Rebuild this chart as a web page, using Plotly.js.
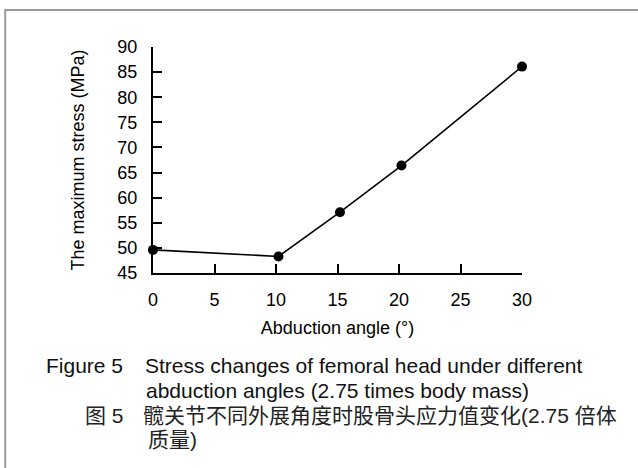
<!DOCTYPE html>
<html>
<head>
<meta charset="utf-8">
<script src="https://cdn.plot.ly/plotly-3.0.1.min.js"></script>
<style>html,body{margin:0;padding:0;background:#fff;}#chart{width:638px;height:468px;}</style>
</head>
<body>
<div id="chart"></div>
<script>
// Data
const abductionAngle = [0, 10.2, 15.2, 20.2, 30];
const maxStress = [49.6, 48.3, 57.1, 66.4, 86.1];
const xTicks = [0, 5, 10, 15, 20, 25, 30];
const yTicks = [45, 50, 55, 60, 65, 70, 75, 80, 85, 90];

const xTitle = 'Abduction angle (°)';
const yTitle = 'The maximum stress (MPa)';
const captionEnLabel = 'Figure 5';
const captionEnLine1 = 'Stress changes of femoral head under different';
const captionEnLine2 = 'abduction angles (2.75 times body mass)';
const captionZhLabel = '图 5';
const captionZhLine1 = '髋关节不同外展角度时股骨头应力值变化(2.75 倍体';
const captionZhLine2 = '质量)';

const W = 638, H = 468;
const L = 153.3, R = 522.3, T = 46.7, B = 273.3;
const px = x => (x - L) / (R - L);
const py = y => (B - y) / (B - T);

const latin = '"Liberation Sans", Arial, sans-serif';
const zh = '"Liberation Sans", "Noto Sans CJK SC", sans-serif';

function cap(text, x, y, fam, color) {
  return {text: text, xref: 'paper', yref: 'paper', x: px(x), y: py(y),
    xanchor: 'left', yanchor: 'middle', showarrow: false,
    font: {family: fam, size: 21, color: color || '#111'}};
}

const trace = {
  x: abductionAngle, y: maxStress, type: 'scatter', mode: 'lines+markers',
  line: {color: '#000', width: 1.6},
  marker: {color: '#000', size: 10},
  cliponaxis: false, hoverinfo: 'skip'
};

const layout = {
  width: W, height: H,
  margin: {l: L, r: W - R, t: T, b: H - B, pad: 0},
  paper_bgcolor: '#fff', plot_bgcolor: '#fff',
  showlegend: false,
  font: {family: latin, color: '#000', size: 18},
  xaxis: {
    range: [0, 30], tickvals: xTicks, ticktext: xTicks.map(String),
    showgrid: false, zeroline: false, showline: true, linecolor: '#000', linewidth: 2,
    ticks: 'inside', ticklen: 9, tickwidth: 2, tickcolor: '#000',
    ticklabelstandoff: 9,
    tickfont: {size: 18, family: latin, color: '#000'},
    title: {text: xTitle, font: {size: 18, family: latin, color: '#000'}, standoff: 13},
    fixedrange: true
  },
  yaxis: {
    range: [45, 90], tickvals: yTicks, ticktext: yTicks.map(String),
    showgrid: false, zeroline: false, showline: true, linecolor: '#000', linewidth: 2,
    ticks: 'inside', ticklen: 9, tickwidth: 2, tickcolor: '#000',
    ticklabelstandoff: 10,
    tickfont: {size: 18, family: latin, color: '#000'},
    title: {text: yTitle, font: {size: 18, family: latin, color: '#000'}, standoff: 28},
    fixedrange: true
  },
  shapes: [{
    type: 'rect', xref: 'paper', yref: 'paper',
    x0: px(5.5), x1: px(700), y0: py(9.5), y1: py(520),
    line: {color: '#9a9a9a', width: 2}, fillcolor: 'rgba(0,0,0,0)', layer: 'below'
  }],
  annotations: [
    cap(captionEnLabel, 44, 366, latin),
    cap(captionEnLine1, 143, 366, latin),
    cap(captionEnLine2, 144, 391, latin),
    cap(captionZhLabel, 83, 416, zh, '#222'),
    cap(captionZhLine1, 141, 416, zh, '#222'),
    cap(captionZhLine2, 146, 440, zh, '#222')
  ]
};

Plotly.newPlot('chart', [trace], layout, {staticPlot: true, displayModeBar: false});
</script>
</body>
</html>
